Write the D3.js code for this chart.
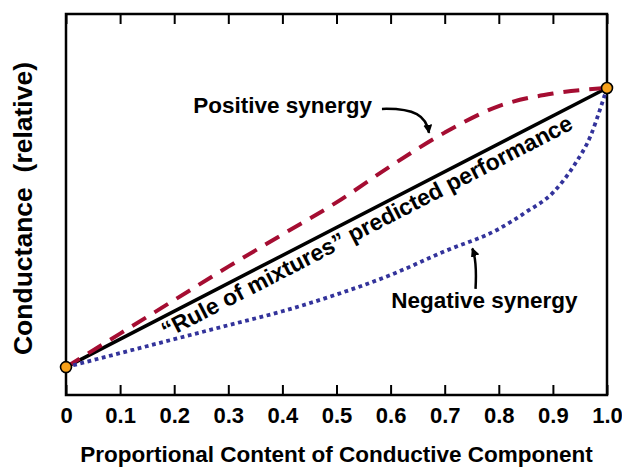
<!DOCTYPE html>
<html>
<head>
<meta charset="utf-8">
<script src="https://cdn.jsdelivr.net/npm/d3@7"></script>
<style>
  body { margin: 0; background: #fff; }
  svg text { font-family: "Liberation Sans", Arial, Helvetica, sans-serif; font-weight: bold; }
</style>
</head>
<body>
<svg id="chart" width="622" height="468"></svg>
<script>
// Data (relative conductance, 0 = pure matrix, 1 = pure filler)
const xTicks = [0, 0.1, 0.2, 0.3, 0.4, 0.5, 0.6, 0.7, 0.8, 0.9, 1.0];
const xTickLabels = ['0', '0.1', '0.2', '0.3', '0.4', '0.5', '0.6', '0.7', '0.8', '0.9', '1.0'];

const ruleX = [0, 1];
const ruleY = [0, 1];

const positiveX = [0, 0.1, 0.2, 0.3, 0.4, 0.5, 0.6, 0.7, 0.8, 0.9, 1.0];
const positiveY = [0, 0.12, 0.24, 0.36, 0.475, 0.59, 0.72, 0.84, 0.935, 0.98, 1.0];

const negativeX = [0, 0.1, 0.2, 0.3, 0.4, 0.5, 0.6, 0.7, 0.8, 0.85, 0.9, 0.94, 0.97, 0.99, 1.0];
const negativeY = [0, 0.05, 0.1, 0.15, 0.2, 0.26, 0.33, 0.415, 0.495, 0.555, 0.625, 0.725, 0.83, 0.94, 1.0];

const endPointsX = [0, 1];
const endPointsY = [0, 1];

const COLORS = { positive: '#a50d32', negative: '#33339b', rule: '#000', marker: '#f7a11a' };

/** Chart geometry */
const svg = d3.select('#chart');
const frame = { left: 66, right: 607, top: 14, bottom: 395 };

const xScale = d3.scaleLinear().domain([0, 1]).range([frame.left, frame.right]);
const yScale = d3.scaleLinear().domain([-0.1, 1.265]).range([frame.bottom, frame.top]);

const zip = (xs, ys) => xs.map((x, i) => ({ x, y: ys[i] }));

// Arrow head marker
svg.append('defs').append('marker')
    .attr('id', 'arrowHead')
    .attr('viewBox', '0 0 10 10')
    .attr('refX', 9).attr('refY', 5)
    .attr('markerWidth', 3.6).attr('markerHeight', 3.6)
    .attr('markerUnits', 'strokeWidth')
    .attr('orient', 'auto')
    .append('path')
    .attr('d', 'M0,0 L10,5 L0,10 z')
    .attr('fill', '#000');

// Bottom axis (ticks inward)
const bottomAxis = svg.append('g')
    .attr('transform', `translate(0, ${frame.bottom})`)
    .call(d3.axisBottom(xScale).tickValues(xTicks)
        .tickFormat((d, i) => xTickLabels[i])
        .tickSizeInner(-10).tickSizeOuter(0).tickPadding(12.5));

// Top axis (ticks only)
const topAxis = svg.append('g')
    .attr('transform', `translate(0, ${frame.top})`)
    .call(d3.axisTop(xScale).tickValues(xTicks).tickFormat('')
        .tickSizeInner(-10).tickSizeOuter(0));

[bottomAxis, topAxis].forEach(ax => {
    ax.select('.domain').remove();
    ax.selectAll('line').attr('stroke', '#000').attr('stroke-width', 2);
});
bottomAxis.selectAll('text')
    .attr('fill', '#000')
    .style('font-size', '22px');

// Frame
svg.append('rect')
    .attr('x', frame.left).attr('y', frame.top)
    .attr('width', frame.right - frame.left)
    .attr('height', frame.bottom - frame.top)
    .attr('fill', 'none')
    .attr('stroke', '#000')
    .attr('stroke-width', 2.5);

// Curves
const smoothLine = d3.line()
    .x(d => xScale(d.x))
    .y(d => yScale(d.y))
    .curve(d3.curveMonotoneX);

svg.append('path')
    .datum(zip(ruleX, ruleY))
    .attr('fill', 'none')
    .attr('stroke', COLORS.rule)
    .attr('stroke-width', 3.5)
    .attr('d', d3.line().x(d => xScale(d.x)).y(d => yScale(d.y)));

svg.append('path')
    .datum(zip(positiveX, positiveY))
    .attr('fill', 'none')
    .attr('stroke', COLORS.positive)
    .attr('stroke-width', 4)
    .attr('stroke-dasharray', '16,10')
    .attr('d', smoothLine);

svg.append('path')
    .datum(zip(negativeX, negativeY))
    .attr('fill', 'none')
    .attr('stroke', COLORS.negative)
    .attr('stroke-width', 3.8)
    .attr('stroke-dasharray', '3.8,3.6')
    .attr('d', smoothLine);

// End points
svg.selectAll('circle.endpoint')
    .data(zip(endPointsX, endPointsY))
    .enter()
    .append('circle')
    .attr('class', 'endpoint')
    .attr('cx', d => xScale(d.x))
    .attr('cy', d => yScale(d.y))
    .attr('r', 5.5)
    .attr('fill', COLORS.marker)
    .attr('stroke', '#000')
    .attr('stroke-width', 1.6);

// Rule-of-mixtures label, running along the straight line
const ruleAngle = Math.atan2(yScale(1) - yScale(0), xScale(1) - xScale(0)) * 180 / Math.PI;
const ruleLabelT = 0.545;  // position along the line (data x)
const ruleOffset = 21;     // px below the line, perpendicular
{
    const rad = ruleAngle * Math.PI / 180;
    const px = xScale(ruleLabelT) - Math.sin(rad) * ruleOffset;
    const py = yScale(ruleLabelT) + Math.cos(rad) * ruleOffset;
    svg.append('text')
        .attr('transform', `translate(${px}, ${py}) rotate(${ruleAngle})`)
        .attr('text-anchor', 'middle')
        .style('font-size', '23px')
        .text('\u201CRule of mixtures\u201D predicted performance');
}

// Annotation labels (data coords of text anchor)
const labels = [
    { text: 'Positive synergy', x: 0.235, y: 0.91 },
    { text: 'Negative synergy', x: 0.601, y: 0.211 }
];
labels.forEach(l => {
    svg.append('text')
        .attr('x', xScale(l.x))
        .attr('y', yScale(l.y))
        .style('font-size', '22.5px')
        .text(l.text);
});

// Curved arrows: start, two control points, tip (data coords)
const arrows = [
    [[0.584, 0.925], [0.645, 0.928], [0.666, 0.900], [0.671, 0.839]],
    [[0.757, 0.280], [0.759, 0.350], [0.757, 0.395], [0.751, 0.425]]
];
arrows.forEach(a => {
    const p = a.map(([x, y]) => [xScale(x), yScale(y)]);
    svg.append('path')
        .attr('d', `M${p[0]} C${p[1]} ${p[2]} ${p[3]}`)
        .attr('fill', 'none')
        .attr('stroke', '#000')
        .attr('stroke-width', 2.5)
        .attr('marker-end', 'url(#arrowHead)');
});

// Axis titles
svg.append('text')
    .attr('x', (frame.left + frame.right) / 2)
    .attr('y', 462)
    .attr('text-anchor', 'middle')
    .style('font-size', '22.5px')
    .text('Proportional Content of Conductive Component');

svg.append('text')
    .attr('transform', `translate(32, ${(frame.top + frame.bottom) / 2 + 4}) rotate(-90)`)
    .attr('text-anchor', 'middle')
    .style('font-size', '26.5px')
    .style('white-space', 'pre')
    .text('Conductance  (relative)');
</script>
</body>
</html>
